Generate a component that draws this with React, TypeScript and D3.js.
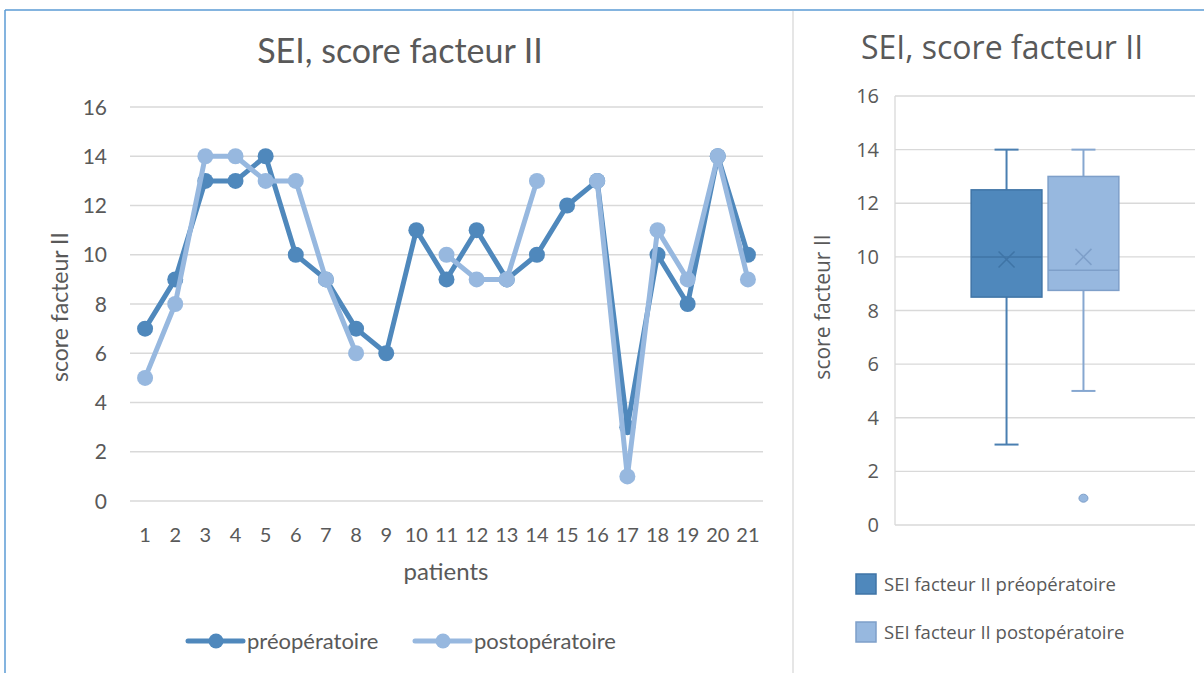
import * as d3 from 'd3';

const patients = ['1','2','3','4','5','6','7','8','9','10','11','12','13','14','15','16','17','18','19','20','21'];
const preop: (number | null)[] = [7, 9, 13, 13, 14, 10, 9, 7, 6, 11, 9, 11, 9, 10, 12, 13, 3, 10, 8, 14, 10];
const postop: (number | null)[] = [5, 8, 14, 14, 13, 13, 9, 6, null, null, 10, 9, 9, 13, null, 13, 1, 11, 9, 14, 9];
const yTicks = [0, 2, 4, 6, 8, 10, 12, 14, 16];
const boxSeries = ['SEI facteur II préopératoire', 'SEI facteur II postopératoire'];

const DARK = '#4f88bc';
const LIGHT = '#97b8df';
const TEXT = '#595959';
const GRID = '#d9d9d9';

// exclusive quartiles, like Excel's box and whisker chart
const quartileExc = (sorted: number[], p: number) => {
  const pos = p * (sorted.length + 1);
  const i = Math.floor(pos);
  const f = pos - i;
  if (i < 1) return sorted[0];
  if (i >= sorted.length) return sorted[sorted.length - 1];
  return sorted[i - 1] + f * (sorted[i] - sorted[i - 1]);
};

const boxStats = (vals: (number | null)[]) => {
  const v = (vals.filter(d => d != null) as number[]).sort((a, b) => a - b);
  const q1 = quartileExc(v, 0.25);
  const med = quartileExc(v, 0.5);
  const q3 = quartileExc(v, 0.75);
  const iqr = q3 - q1;
  const inside = v.filter(d => d >= q1 - 1.5 * iqr && d <= q3 + 1.5 * iqr);
  return {
    q1, med, q3,
    lo: d3.min(inside)!, hi: d3.max(inside)!,
    mean: d3.mean(v)!,
    outliers: v.filter(d => d < q1 - 1.5 * iqr || d > q3 + 1.5 * iqr),
  };
};

const LineChart = () => {
  const x = d3.scaleBand().domain(patients).range([130, 763]);
  const y = d3.scaleLinear().domain([0, 16]).range([501, 107]);
  const cx = (i: number) => x(patients[i])! + x.bandwidth() / 2;
  const line = d3.line<number | null>()
    .defined(d => d != null)
    .x((_, i) => cx(i))
    .y(d => y(d as number));
  const font = 'Lato, "Open Sans", sans-serif';
  const series = [
    { name: 'préopératoire', data: preop, color: DARK },
    { name: 'postopératoire', data: postop, color: LIGHT },
  ];
  return (
    <g fontFamily={font} fill={TEXT}>
      <text x={400} y={63} textAnchor="middle" fontSize={34}>SEI, score facteur II</text>
      {yTicks.map(t => (
        <g key={t}>
          <line x1={130} x2={763} y1={y(t)} y2={y(t)} stroke={GRID} strokeWidth={1.3} />
          <text x={107} y={y(t) + 7.5} textAnchor="end" fontSize={21}>{t}</text>
        </g>
      ))}
      {patients.map((p, i) => (
        <text key={p} x={cx(i)} y={542} textAnchor="middle" fontSize={20}>{p}</text>
      ))}
      <text x={446} y={580} textAnchor="middle" fontSize={24}>patients</text>
      <text transform="translate(68,307) rotate(-90)" textAnchor="middle" fontSize={23}>score facteur II</text>
      {series.map(s => (
        <g key={s.name}>
          <path d={line(s.data)!} fill="none" stroke={s.color} strokeWidth={5} strokeLinejoin="round" />
          {s.data.map((d, i) => d == null ? null : (
            <circle key={i} cx={cx(i)} cy={y(d)} r={8} fill={s.color} />
          ))}
        </g>
      ))}
      {series.map((s, k) => {
        const lx = 188 + k * 227;
        return (
          <g key={s.name}>
            <line x1={lx} x2={lx + 55} y1={641} y2={641} stroke={s.color} strokeWidth={5} strokeLinecap="round" />
            <circle cx={lx + 28} cy={641} r={7.5} fill={s.color} />
            <text x={lx + 59} y={649} fontSize={22}>{s.name}</text>
          </g>
        );
      })}
    </g>
  );
};

const BoxChart = () => {
  const y = d3.scaleLinear().domain([0, 16]).range([525, 96]);
  const x = d3.scaleBand().domain(boxSeries).range([895, 1195]).paddingInner(0.08).paddingOuter(0.99);
  const font = '"Open Sans", sans-serif';
  const styles = [
    { fill: DARK, stroke: '#3f74a6', line: '#4a7fb1' },
    { fill: LIGHT, stroke: '#7e9fc9', line: '#86a7d0' },
  ];
  const stats = [boxStats(preop), boxStats(postop)];
  return (
    <g fontFamily={font} fill={TEXT}>
      <text x={1002} y={59} textAnchor="middle" fontSize={32}>SEI, score facteur II</text>
      {yTicks.map(t => (
        <g key={t}>
          <line x1={895} x2={1195} y1={y(t)} y2={y(t)} stroke={GRID} strokeWidth={1.3} />
          <text x={879} y={y(t) + 7} textAnchor="end" fontSize={20}>{t}</text>
        </g>
      ))}
      <line x1={895} x2={895} y1={y(16)} y2={y(0)} stroke={GRID} strokeWidth={1.3} />
      <text transform="translate(830,307) rotate(-90)" textAnchor="middle" fontSize={21}>score facteur II</text>
      {boxSeries.map((name, i) => {
        const s = stats[i];
        const st = styles[i];
        const x0 = x(name)!;
        const w = x.bandwidth();
        const c = x0 + w / 2;
        return (
          <g key={name}>
            <line x1={c} x2={c} y1={y(s.hi)} y2={y(s.q3)} stroke={st.line} strokeWidth={2} />
            <line x1={c} x2={c} y1={y(s.q1)} y2={y(s.lo)} stroke={st.line} strokeWidth={2} />
            <line x1={c - 12} x2={c + 12} y1={y(s.hi)} y2={y(s.hi)} stroke={st.line} strokeWidth={2} />
            <line x1={c - 12} x2={c + 12} y1={y(s.lo)} y2={y(s.lo)} stroke={st.line} strokeWidth={2} />
            <rect x={x0} y={y(s.q3)} width={w} height={y(s.q1) - y(s.q3)} fill={st.fill} stroke={st.stroke} strokeWidth={1.5} />
            <line x1={x0} x2={x0 + w} y1={y(s.med)} y2={y(s.med)} stroke={st.stroke} strokeWidth={1.5} />
            <path d={`M${c - 8},${y(s.mean) - 8}L${c + 8},${y(s.mean) + 8}M${c - 8},${y(s.mean) + 8}L${c + 8},${y(s.mean) - 8}`}
              stroke={st.stroke} strokeWidth={1.5} fill="none" />
            {s.outliers.map((o, j) => (
              <ellipse key={j} cx={c} cy={y(o)} rx={4.5} ry={4} fill={st.fill} stroke={st.stroke} strokeWidth={1} />
            ))}
            <rect x={856} y={574 + i * 48} width={20} height={20} fill={st.fill} stroke={st.stroke} strokeWidth={1.5} />
            <text x={884} y={591 + i * 48} fontSize={18.5}>{name}</text>
          </g>
        );
      })}
    </g>
  );
};

export default function App() {
  return (
    <svg width={1204} height={673} style={{ position: 'absolute', left: 0, top: 0, background: '#fff' }}>
      <rect x={0} y={0} width={1204} height={673} fill="#fff" />
      <line x1={5} x2={1204} y1={10} y2={10} stroke="#5b9bd5" strokeWidth={1.5} />
      <line x1={5} x2={5} y1={10} y2={673} stroke="#5b9bd5" strokeWidth={1.5} />
      <line x1={793} x2={793} y1={11} y2={673} stroke={GRID} strokeWidth={1.3} />
      <LineChart />
      <BoxChart />
    </svg>
  );
}
